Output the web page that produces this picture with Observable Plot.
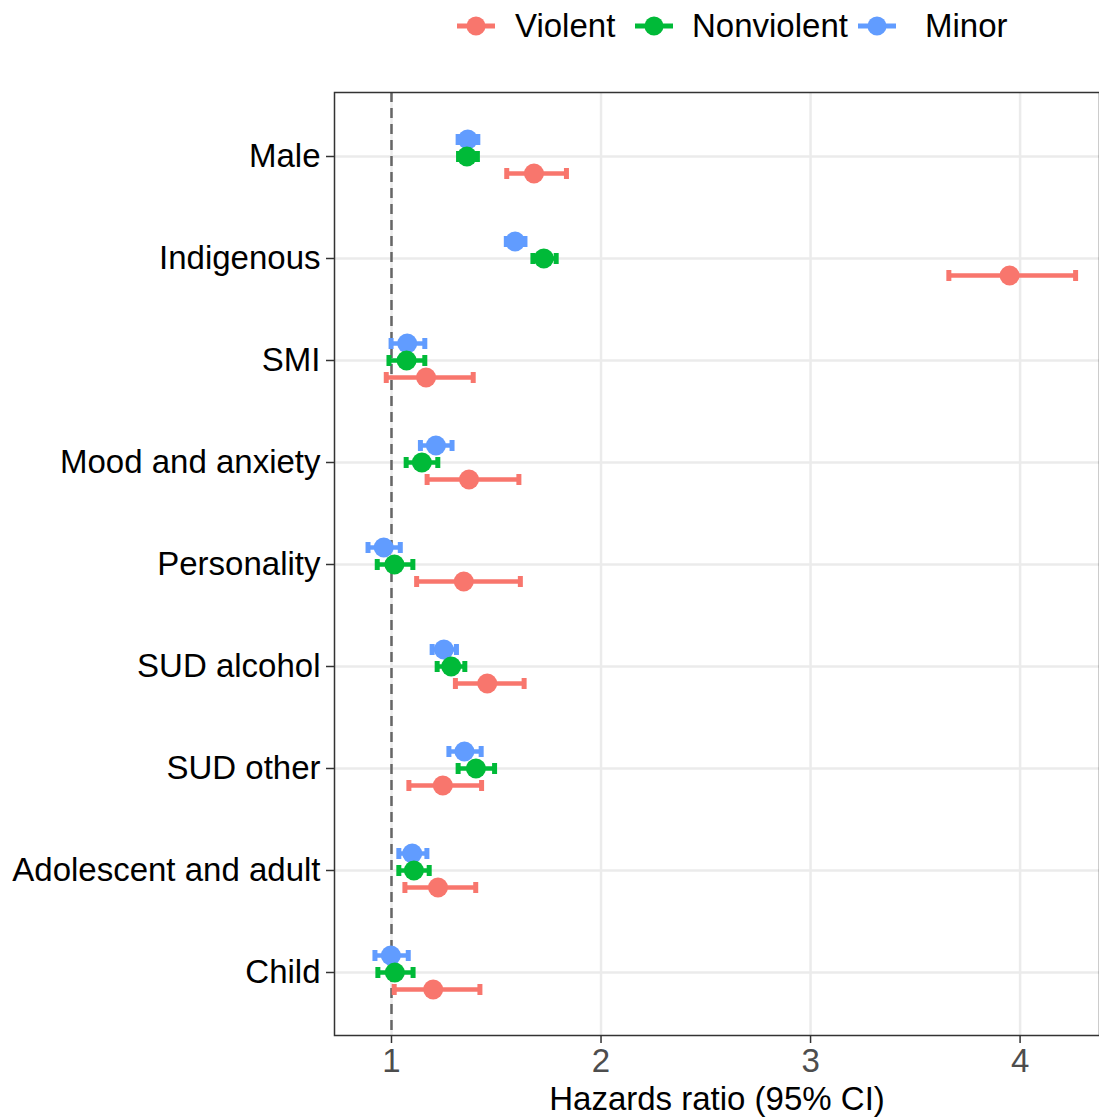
<!DOCTYPE html>
<html>
<head>
<meta charset="utf-8">
<script src="https://cdn.jsdelivr.net/npm/d3@7"></script>
<script src="https://cdn.jsdelivr.net/npm/@observablehq/plot@0.6"></script>
<style>
  body { margin: 0; background: #fff; font-family: "Liberation Sans", Arial, Helvetica, sans-serif; }
  #legend { position: relative; width: 1099px; height: 50px; }
  #legend .g { position: absolute; top: 15px; }
  #legend .t { position: absolute; top: 7px; font-size: 33px; line-height: 37px; color: #000; white-space: nowrap; }
  #chart svg { display: block; }
</style>
</head>
<body>
<div id="legend"></div>
<div id="chart"></div>
<script>
const categories = ["Male", "Indigenous", "SMI", "Mood and anxiety", "Personality", "SUD alcohol", "SUD other", "Adolescent and adult", "Child"];
const seriesNames = ["Violent", "Nonviolent", "Minor"];
const seriesColors = ["#F8766D", "#00BA38", "#619CFF"];

const violentHR = [1.68, 3.95, 1.165, 1.37, 1.345, 1.457, 1.245, 1.222, 1.199];
const violentLo = [1.55, 3.66, 0.975, 1.17, 1.12, 1.305, 1.083, 1.064, 1.013];
const violentHi = [1.835, 4.265, 1.39, 1.608, 1.615, 1.633, 1.43, 1.402, 1.422];

const nonviolentHR = [1.36, 1.727, 1.072, 1.145, 1.014, 1.285, 1.403, 1.107, 1.016];
const nonviolentLo = [1.32, 1.675, 0.988, 1.07, 0.932, 1.218, 1.318, 1.035, 0.935];
const nonviolentHi = [1.41, 1.786, 1.159, 1.221, 1.102, 1.35, 1.492, 1.18, 1.103];

const minorHR = [1.364, 1.59, 1.075, 1.212, 0.963, 1.25, 1.348, 1.099, 0.997];
const minorLo = [1.318, 1.548, 0.998, 1.138, 0.888, 1.194, 1.274, 1.035, 0.921];
const minorHi = [1.412, 1.637, 1.159, 1.289, 1.042, 1.31, 1.428, 1.169, 1.08];

const xTicks = [1, 2, 3, 4];
const refValue = 1;

const hr = [violentHR, nonviolentHR, minorHR];
const lo = [violentLo, nonviolentLo, minorLo];
const hi = [violentHi, nonviolentHi, minorHi];
const dodge = [17, 0, -17];

const rows = seriesNames.map((s, si) => categories.map((c, i) => ({
  category: c, series: s, hr: hr[si][i], lo: lo[si][i], hi: hi[si][i]
})));

// vertical bar symbol for error bar caps
const vbar = {
  draw(ctx, size) {
    const h = Math.sqrt(size / Math.PI);
    ctx.moveTo(0, -h);
    ctx.lineTo(0, h);
  }
};

const font = "'Liberation Sans', Arial, Helvetica, sans-serif";
const colorScale = {domain: seriesNames, range: seriesColors};

const marks = [
  Plot.gridX(xTicks, {stroke: "#EBEBEB", strokeOpacity: 1, strokeWidth: 2.5}),
  Plot.gridY(categories, {stroke: "#EBEBEB", strokeOpacity: 1, strokeWidth: 2.5}),
  Plot.ruleX([refValue], {stroke: "#666666", strokeWidth: 2.5, strokeDasharray: "10,6"}),
];

// draw order: Minor, Nonviolent, Violent
const order = [2, 1, 0];
for (const si of order) {
  const d = rows[si];
  marks.push(
    Plot.link(d, {x1: "lo", x2: "hi", y1: "category", y2: "category", stroke: "series", strokeWidth: 4.5, dy: dodge[si]}),
    Plot.dot(d, {x: "lo", y: "category", symbol: vbar, r: 5.5, stroke: "series", strokeWidth: 5, dy: dodge[si]}),
    Plot.dot(d, {x: "hi", y: "category", symbol: vbar, r: 5.5, stroke: "series", strokeWidth: 5, dy: dodge[si]})
  );
}
for (const si of order) {
  const d = rows[si];
  marks.push(Plot.dot(d, {x: "hr", y: "category", r: 10, fill: "series", stroke: "none", dy: dodge[si]}));
}

marks.push(
  Plot.frame({stroke: "#333333", strokeWidth: 1.5}),
  Plot.axisX(xTicks, {tickSize: 8, tickPadding: 5, fontSize: 33, tickFormat: d => String(d), fill: "#4D4D4D", stroke: "#333333", strokeWidth: 1.5, label: null}),
  Plot.axisY(categories, {tickSize: 8, tickPadding: 6, fontSize: 33, fill: "#000000", stroke: "#333333", strokeWidth: 1.5, label: null}),
  Plot.text(["Hazards ratio (95% CI)"], {frameAnchor: "bottom", dy: 74, fontSize: 33, fill: "#000000"})
);

const chart = Plot.plot({
  width: 1099,
  height: 1068,
  marginTop: 42,
  marginBottom: 83,
  marginLeft: 334,
  marginRight: 0,
  style: {fontFamily: font, background: "#fff", overflow: "visible"},
  x: {domain: [0.728, 4.379], axis: null},
  y: {type: "point", domain: categories, padding: 0.6, axis: null},
  color: colorScale,
  marks
});
document.getElementById("chart").appendChild(chart);

// legend
const legend = document.getElementById("legend");
const glyphX = [456, 634, 857];
const textX = [515, 692, 925];
seriesNames.forEach((s, i) => {
  const g = document.createElementNS("http://www.w3.org/2000/svg", "svg");
  g.setAttribute("class", "g");
  g.setAttribute("width", 40);
  g.setAttribute("height", 22);
  g.style.left = glyphX[i] + "px";
  g.innerHTML = `<line x1="1" x2="39" y1="11" y2="11" stroke="${seriesColors[i]}" stroke-width="5"/><circle cx="20" cy="11" r="9.5" fill="${seriesColors[i]}"/>`;
  legend.appendChild(g);
  const t = document.createElement("div");
  t.className = "t";
  t.style.left = textX[i] + "px";
  t.textContent = s;
  legend.appendChild(t);
});
</script>
</body>
</html>
